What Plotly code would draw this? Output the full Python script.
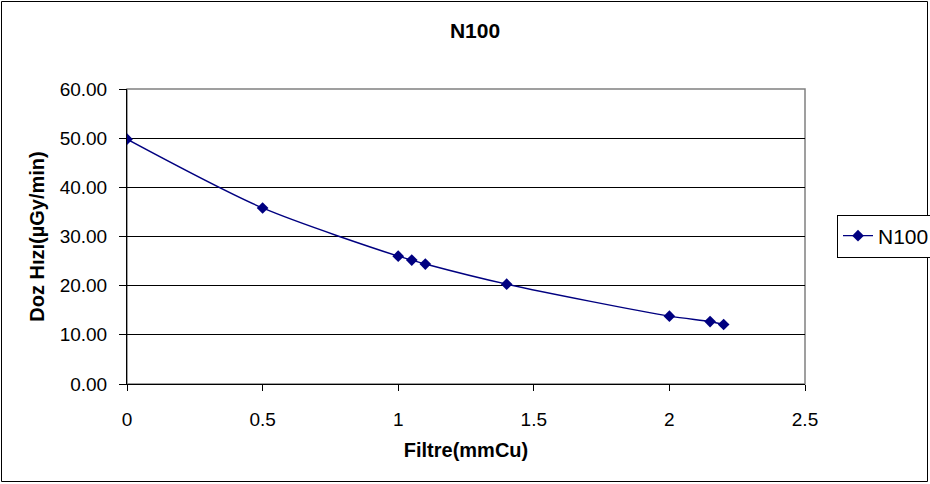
import plotly.graph_objects as go

# Dose rate vs. copper filter thickness, N100 beam quality
filtre_mmcu = [0, 0.5, 1.0, 1.05, 1.1, 1.4, 2.0, 2.15, 2.2]
doz_hizi = [49.8, 35.8, 26.0, 25.2, 24.4, 20.3, 13.8, 12.7, 12.1]
series_name = "N100"
y_ticks = [0, 10, 20, 30, 40, 50, 60]
x_ticks = [0, 0.5, 1, 1.5, 2, 2.5]

W, H = 930, 484
L, R, T, B = 127, 125, 89, 100
pw, ph = W - L - R, H - T - B

NAVY = "#000080"
FONT = "Liberation Sans, Arial, sans-serif"

fig = go.Figure()
fig.add_trace(go.Scatter(
    x=filtre_mmcu, y=doz_hizi, name=series_name,
    mode="lines+markers",
    line=dict(color=NAVY, width=1.4, shape="spline", smoothing=0.8),
    marker=dict(symbol="diamond", size=9, color=NAVY),
))

# chart-area border (whole figure) and gray plot-area frame
fig.add_shape(type="rect", xref="paper", yref="paper",
              x0=-(L - 1.5) / pw, x1=1 + (R - 2.5) / pw,
              y0=-(B - 2.5) / ph, y1=1 + (T - 1.5) / ph,
              line=dict(color="black", width=1), layer="below")
fig.add_shape(type="rect", xref="paper", yref="paper",
              x0=0, x1=1, y0=0, y1=1,
              line=dict(color="#808080", width=1.5), layer="below")

fig.update_layout(
    width=W, height=H,
    margin=dict(l=L, r=R, t=T, b=B, autoexpand=False),
    paper_bgcolor="white", plot_bgcolor="white",
    font=dict(family=FONT, size=19, color="black"),
    title=dict(text="<b>N100</b>", x=475 / W, xref="container",
               xanchor="center", y=1 - 31 / H, yanchor="middle",
               font=dict(size=21)),
    showlegend=True,
    legend=dict(x=(837 - L) / pw, y=(H - B - 236) / ph,
                xanchor="left", yanchor="middle",
                bordercolor="black", borderwidth=1,
                bgcolor="white", font=dict(size=21),
                itemwidth=30, tracegroupgap=0),
)

fig.update_xaxes(
    range=[0, 2.5], tickvals=x_ticks,
    ticktext=[("%g" % v) for v in x_ticks],
    showgrid=False, zeroline=False,
    showline=True, linecolor="black", linewidth=1,
    ticks="outside", ticklen=6, tickcolor="black",
    ticklabelstandoff=12,
    title=dict(text="<b>Filtre(mmCu)</b>", font=dict(size=20), standoff=14),
)
fig.update_yaxes(
    range=[0, 60], tickvals=y_ticks, tickformat=".2f",
    showgrid=True, gridcolor="black", gridwidth=1,
    zeroline=False,
    showline=True, linecolor="black", linewidth=1,
    ticks="outside", ticklen=7, tickcolor="black",
    ticklabelstandoff=8,
    title=dict(text="<b>Doz Hızı(µGy/min)</b>", font=dict(size=20), standoff=9),
)

fig.write_html("out.html")
